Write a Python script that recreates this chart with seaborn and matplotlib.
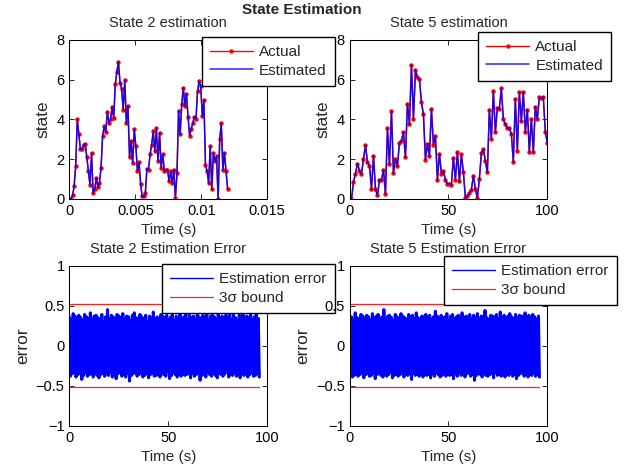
import matplotlib
matplotlib.use("Agg")
import matplotlib.pyplot as plt
import numpy as np
import seaborn as sns

# State trajectories (actual ~ estimated)
state2 = [0.0, 0.0, 0.18, 0.64, 1.68, 4.0, 3.25, 2.49, 2.49, 2.74, 2.77, 2.12, 1.43, 0.72, 2.32,
          0.3, 0.5, 1.06, 0.6, 0.8, 1.56, 3.16, 3.66, 3.36, 4.39, 3.83, 4.0, 4.62, 4.08, 5.76,
          6.4, 6.9, 5.85, 5.55, 4.5, 5.98, 3.83, 4.67, 2.12, 2.92, 1.81, 3.5, 2.65, 1.4, 1.85,
          0.77, 0.13, 0.13, 0.3, 1.53, 1.48, 2.24, 2.74, 3.41, 2.4, 3.55, 1.9, 3.33, 1.56, 2.27,
          1.4, 1.48, 1.48, 0.89, 1.4, 0.8, 1.48, 0.05, 1.31, 4.45, 3.25, 4.76, 5.6, 4.67, 5.3,
          4.12, 3.19, 3.53, 3.83, 4.13, 4.03, 5.43, 5.93, 5.68, 4.17, 4.97, 1.73, 1.4, 0.8, 2.65,
          0.5, 2.32, 1.9, 2.15, 0.0, 3.0, 3.8, 1.45, 2.32, 1.4, 0.5]
state5 = [0.0, 0.0, 0.86, 1.28, 1.78, 1.43, 1.26, 2.02, 2.71, 1.85, 1.68, 0.5, 2.18, 0.5, 0.18,
          0.97, 0.94, 1.48, 0.25, 3.55, 1.76, 4.42, 1.31, 2.02, 1.68, 2.82, 2.91, 3.36, 2.1, 4.79,
          3.75, 6.74, 4.03, 6.49, 6.13, 6.02, 4.87, 4.25, 1.98, 2.77, 2.15, 4.54, 2.74, 3.16, 0.97,
          2.27, 1.28, 1.4, 0.97, 0.77, 0.77, 0.72, 2.07, 0.97, 2.35, 0.89, 2.24, 1.34, 0.05, 0.17,
          0.3, 0.47, 1.18, 0.5, 0.05, 1.01, 2.32, 2.52, 1.9, 1.34, 4.5, 3.03, 5.43, 3.36, 4.59,
          4.54, 5.56, 4.0, 3.75, 3.58, 3.55, 3.29, 1.85, 5.04, 2.4, 5.39, 3.92, 5.39, 3.36, 4.5,
          2.35, 4.03, 2.35, 4.64, 4.0, 5.13, 5.06, 5.13, 3.36, 2.82]
state2_tend = 0.012
state5_tend = 100

# Estimation error traces
err2 = [0.36, -0.38, 0.33, -0.35, 0.40, -0.31, 0.37, -0.39, 0.29, -0.36, 0.38, -0.34, 0.35, -0.42, 0.31, -0.37, 0.39, -0.33, 0.36, -0.38,
        0.34, -0.36, 0.41, -0.35, 0.32, -0.39, 0.37, -0.30, 0.38, -0.37, 0.35, -0.40, 0.33, -0.36, 0.39, -0.34, 0.30, -0.38, 0.36, -0.35,
        0.45, -0.37, 0.34, -0.33, 0.38, -0.39, 0.36, -0.36, 0.32, -0.41, 0.39, -0.35, 0.37, -0.32, 0.35, -0.38, 0.40, -0.36, 0.33, -0.39,
        0.37, -0.34, 0.36, -0.44, 0.31, -0.37, 0.38, -0.35, 0.41, -0.33, 0.35, -0.38, 0.34, -0.36, 0.39, -0.31, 0.36, -0.39, 0.33, -0.37,
        0.38, -0.35, 0.30, -0.40, 0.37, -0.36, 0.35, -0.34, 0.42, -0.38, 0.34, -0.37, 0.36, -0.33, 0.32, -0.39, 0.39, -0.35, 0.37, -0.36,
        0.35, -0.38, 0.38, -0.32, 0.33, -0.41, 0.36, -0.37, 0.40, -0.34, 0.31, -0.36, 0.37, -0.39, 0.35, -0.35, 0.39, -0.38, 0.34, -0.33,
        0.36, -0.37, 0.41, -0.36, 0.32, -0.35, 0.38, -0.40, 0.35, -0.34, 0.37, -0.38, 0.33, -0.36, 0.39, -0.32, 0.36, -0.43, 0.34, -0.37,
        0.38, -0.35, 0.35, -0.39, 0.40, -0.33, 0.32, -0.36, 0.37, -0.38, 0.44, -0.35, 0.36, -0.37, 0.33, -0.40, 0.39, -0.34, 0.35, -0.36,
        0.37, -0.38, 0.34, -0.35, 0.38, -0.31, 0.36, -0.39, 0.41, -0.36, 0.33, -0.37, 0.39, -0.34, 0.35, -0.38, 0.31, -0.36, 0.38, -0.40,
        0.36, -0.33, 0.40, -0.37, 0.34, -0.35, 0.37, -0.39, 0.35, -0.36, 0.39, -0.34, 0.33, -0.38, 0.36, -0.37, 0.42, -0.35, 0.34, -0.39]
err5 = [0.38, -0.35, 0.36, -0.39, 0.33, -0.37, 0.41, -0.34, 0.35, -0.38, 0.30, -0.36, 0.39, -0.33, 0.37, -0.40, 0.34, -0.36, 0.38, -0.35,
        0.36, -0.38, 0.32, -0.37, 0.40, -0.34, 0.35, -0.41, 0.37, -0.36, 0.39, -0.32, 0.34, -0.37, 0.36, -0.39, 0.45, -0.35, 0.33, -0.38,
        0.37, -0.36, 0.38, -0.33, 0.35, -0.40, 0.31, -0.37, 0.39, -0.35, 0.36, -0.38, 0.34, -0.36, 0.40, -0.34, 0.37, -0.39, 0.35, -0.36,
        0.33, -0.37, 0.39, -0.35, 0.36, -0.42, 0.38, -0.34, 0.34, -0.37, 0.41, -0.36, 0.35, -0.38, 0.32, -0.35, 0.37, -0.39, 0.36, -0.33,
        0.39, -0.37, 0.35, -0.36, 0.38, -0.40, 0.33, -0.35, 0.36, -0.38, 0.43, -0.34, 0.37, -0.36, 0.34, -0.39, 0.38, -0.37, 0.35, -0.32,
        0.36, -0.38, 0.40, -0.35, 0.31, -0.37, 0.37, -0.36, 0.39, -0.41, 0.34, -0.35, 0.36, -0.38, 0.38, -0.33, 0.35, -0.37, 0.41, -0.36,
        0.33, -0.39, 0.37, -0.35, 0.36, -0.34, 0.39, -0.38, 0.34, -0.36, 0.38, -0.43, 0.35, -0.37, 0.40, -0.35, 0.32, -0.36, 0.37, -0.39,
        0.36, -0.34, 0.44, -0.37, 0.35, -0.38, 0.33, -0.36, 0.38, -0.35, 0.37, -0.40, 0.36, -0.33, 0.39, -0.37, 0.34, -0.36, 0.42, -0.38,
        0.35, -0.36, 0.38, -0.39, 0.33, -0.35, 0.37, -0.37, 0.40, -0.34, 0.36, -0.38, 0.34, -0.36, 0.39, -0.41, 0.35, -0.37, 0.38, -0.35,
        0.37, -0.33, 0.36, -0.38, 0.41, -0.36, 0.34, -0.39, 0.38, -0.35, 0.35, -0.37, 0.39, -0.34, 0.36, -0.38, 0.33, -0.36, 0.37, -0.39]
err_tend = 96
bound = 0.52

sns.set_style("ticks", {"xtick.direction": "in", "ytick.direction": "in",
                        "axes.edgecolor": "black"})
plt.rcParams['font.family'] = ['Liberation Sans', 'DejaVu Sans']
plt.rcParams['axes.linewidth'] = 0.75
plt.rcParams['path.simplify'] = False

fig = plt.figure(figsize=(6.25, 4.72), dpi=100)
W, H = 0.3165, 0.337
ax1 = fig.add_axes([0.111, 0.5784, W, H])
ax2 = fig.add_axes([0.5592, 0.5784, W, H])
ax3 = fig.add_axes([0.111, 0.0975, W, 0.34])
ax4 = fig.add_axes([0.5592, 0.0975, W, 0.34])

leg_kw = dict(loc="upper left", bbox_transform=fig.transFigure, borderaxespad=0,
              fancybox=False, framealpha=1, edgecolor="black", fontsize=11,
              handlelength=2.8, handletextpad=0.4, labelspacing=0.3, borderpad=0.55)


def state_panel(ax, vals, tend, title, xticks, xlim, legpos):
    t = np.linspace(0, tend, len(vals))
    sns.lineplot(x=t, y=vals, ax=ax, color="red", lw=1.0, marker="o", markersize=3.2,
                 markeredgewidth=0, estimator=None, sort=False, label="Actual")
    sns.lineplot(x=t, y=vals, ax=ax, color="blue", lw=1.1, alpha=0.85,
                 estimator=None, sort=False, label="Estimated")
    ax.set_xlim(*xlim)
    ax.set_ylim(0, 8)
    ax.set_xticks(xticks)
    ax.set_yticks([0, 2, 4, 6, 8])
    ax.set_title(title, fontsize=10.5, pad=9)
    ax.set_xlabel("Time (s)", fontsize=11)
    ax.set_ylabel("state", fontsize=12.5)
    ax.legend(bbox_to_anchor=legpos, **leg_kw)


def error_panel(ax, vals, title, legpos):
    t = np.linspace(0, err_tend, len(vals))
    sns.lineplot(x=t, y=vals, ax=ax, color="blue", lw=2.2, estimator=None, sort=False,
                 label="Estimation error")
    sns.lineplot(x=[0, err_tend], y=[bound, bound], ax=ax, color="#ff2020", lw=0.9,
                 estimator=None, label="3σ bound")
    sns.lineplot(x=[0, err_tend], y=[-bound, -bound], ax=ax, color="#ff2020", lw=0.9,
                 estimator=None)
    ax.set_xlim(0, 100)
    ax.set_ylim(-1, 1)
    ax.set_xticks([0, 50, 100])
    ax.set_yticks([-1, -0.5, 0, 0.5, 1])
    ax.set_yticklabels(["\u22121", "\u22120.5", "0", "0.5", "1"])
    ax.set_title(title, fontsize=10.5, pad=9)
    ax.set_xlabel("Time (s)", fontsize=11)
    ax.set_ylabel("error", fontsize=12.5)
    leg = ax.legend(bbox_to_anchor=legpos, **leg_kw)
    leg.get_lines()[0].set_linewidth(1.0)


state_panel(ax1, state2, state2_tend, "State 2 estimation", [0, 0.005, 0.01, 0.015],
            (0, 0.015), (0.3227, 0.9222))
ax1.set_xticklabels(["0", "0.005", "0.01", "0.015"])
state_panel(ax2, state5, state5_tend, "State 5 estimation", [0, 50, 100], (0, 100),
            (0.7648, 0.9328))
error_panel(ax3, err2, "State 2 Estimation Error", (0.2587, 0.4407))
error_panel(ax4, err5, "State 5 Estimation Error", (0.7104, 0.4576))

for ax in (ax1, ax2, ax3, ax4):
    ax.tick_params(top=True, right=True, direction="in", length=3.5, width=0.6,
                   labelsize=10.5, colors="black")
    for s in ax.spines.values():
        s.set_visible(True)
        s.set_color("black")

fig.text(0.4824, 0.979, "State Estimation", ha="center", va="center",
         fontsize=11, fontweight="bold")

fig.savefig("out.png", dpi=100)
